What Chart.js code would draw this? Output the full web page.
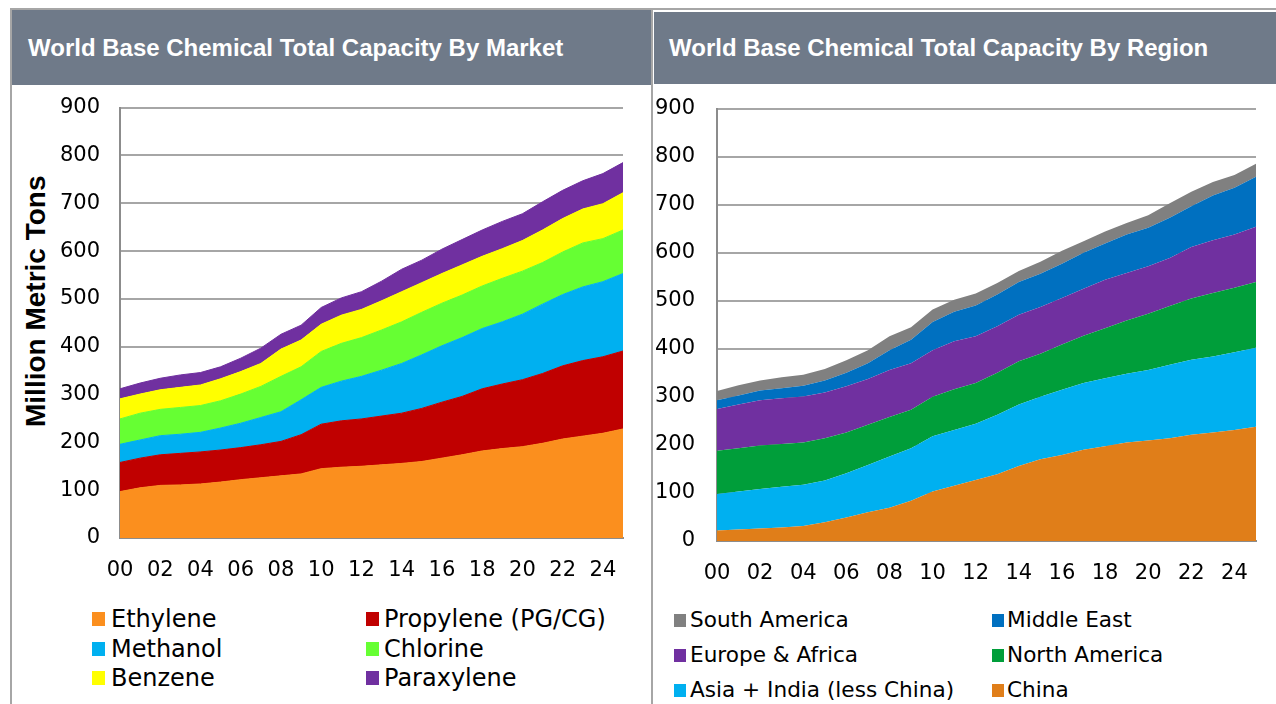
<!DOCTYPE html>
<html>
<head>
<meta charset="utf-8">
<script src="https://cdn.jsdelivr.net/npm/chart.js@4.4.0/dist/chart.umd.min.js"></script>
<style>
  body { margin:0; width:1276px; height:704px; background:#fff; position:relative; overflow:hidden; font-family:'DejaVu Sans', sans-serif; }
  .line { position:absolute; background:#a6a6a6; }
  .head { position:absolute; background:#6f7a89; color:#fff; font:bold 24px 'Liberation Sans', Arial, sans-serif; white-space:nowrap; line-height:76px; }
  .box { position:absolute; }
  .ytitle { position:absolute; font:bold 28px 'Liberation Sans', Arial, sans-serif; white-space:nowrap; transform-origin:0 0; transform:rotate(-90deg); }
  .leg i { position:absolute; display:block; }
  .leg span { position:absolute; white-space:nowrap; color:#000; }
</style>
</head>
<body>
<div class="line" style="left:10px;top:8px;width:2px;height:696px"></div>
<div class="line" style="left:10px;top:8px;width:1266px;height:2px"></div>
<div class="line" style="left:651px;top:8px;width:2px;height:696px"></div>
<div class="head" style="left:12px;top:10px;width:639px;height:75px"><span style="margin-left:16px">World Base Chemical Total Capacity By Market</span></div>
<div class="head" style="left:654px;top:12px;width:622px;height:72px;line-height:72px"><span style="margin-left:15px">World Base Chemical Total Capacity By Region</span></div>

<div class="ytitle" style="left:20px;top:427px">Million Metric Tons</div>

<div class="box" style="left:10px;top:75px"><canvas id="market" width="640" height="508"></canvas></div>
<div class="box" style="left:653px;top:74px"><canvas id="region" width="623" height="512"></canvas></div>

<div class="leg" id="legMarket"></div>
<div class="leg" id="legRegion"></div>

<script>
// years 2000..2025
const years = ['00','01','02','03','04','05','06','07','08','09','10','11','12',
               '13','14','15','16','17','18','19','20','21','22','23','24','25'];
const yTicks = [0, 100, 200, 300, 400, 500, 600, 700, 800, 900];

// by market (million metric tons), bottom to top
const marketNames = ['Ethylene', 'Propylene (PG/CG)', 'Methanol', 'Chlorine', 'Benzene', 'Paraxylene'];
const ethylene   = [97,105,110,111,113,117,122,126,130,134,145,148,150,153,156,160,167,174,182,187,191,198,207,213,219,228];
const propylene  = [61,62,64,66,67,67,67,69,72,82,93,97,99,102,105,111,117,122,130,135,140,146,153,158,160,163];
const methanol   = [38,38,40,40,41,46,51,57,62,73,77,83,89,96,104,112,118,123,126,130,137,145,149,154,157,162];
const chlorine   = [53,56,55,56,56,57,61,65,74,69,75,79,81,84,87,89,89,89,89,91,90,87,89,92,90,91];
const benzene    = [42,40,41,42,43,46,47,48,57,56,57,59,59,61,63,62,62,63,62,62,64,68,70,71,73,78];
const paraxylene = [21,23,24,26,26,25,28,32,31,31,35,36,37,41,47,47,51,53,55,57,56,59,59,59,63,63];

// by region, bottom to top
const regionNames = ['China', 'Asia + India (less China)', 'North America', 'Europe & Africa', 'Middle East', 'South America'];
const china        = [22,24,26,28,31,39,49,60,69,84,103,115,127,139,156,170,179,190,197,205,209,214,221,226,231,238];
const asia         = [76,79,82,85,86,87,92,98,107,109,115,116,117,124,128,130,136,139,142,143,147,153,156,158,162,164];
const northAmerica = [90,90,91,89,88,88,85,84,82,80,82,85,85,87,90,90,94,98,104,111,117,122,128,132,134,137];
const europeAfrica = [87,91,94,95,96,95,96,95,98,97,97,100,97,97,97,97,97,98,101,99,99,100,107,110,111,115];
const middleEast   = [18,19,20,21,22,25,28,33,41,49,59,61,64,66,68,69,71,75,75,80,80,84,85,93,97,104];
const southAmerica = [19,21,21,23,23,24,26,27,29,26,26,25,25,24,23,25,27,24,25,24,26,30,30,28,27,27];

const marketColors = ['#fb8f1e', '#c00000', '#00b0f0', '#66ff33', '#ffff00', '#7030a0'];
const regionColors = ['#e07e19', '#00b0f0', '#009e3a', '#7030a0', '#0070c0', '#808080'];

const tickFont = { family: 'DejaVu Sans', size: 21 };

function areaSets(names, series, colors, bw) {
  return series.map((data, i) => ({
    label: names[i],
    data: data,
    backgroundColor: colors[i],
    borderColor: colors[i],
    borderWidth: bw,
    pointRadius: 0,
    tension: 0,
    fill: i === 0 ? 'origin' : '-1'
  }));
}

// note: the y tick padding also pads the top of the plot, so the canvases sit a bit higher
function makeChart(id, datasets, yWidth, yPad, padRight) {
  return new Chart(document.getElementById(id), {
    type: 'line',
    data: { labels: years, datasets: datasets },
    options: {
      responsive: false,
      animation: false,
      devicePixelRatio: 1,
      layout: { padding: { left: 0, top: 0, right: padRight, bottom: 0 } },
      plugins: { legend: { display: false }, tooltip: { enabled: false } },
      scales: {
        x: {
          grid: { display: false },
          border: { display: true, color: '#8c8c8c', width: 2 },
          ticks: {
            autoSkip: false, maxRotation: 0, padding: 12, color: '#000', font: tickFont,
            callback: (v, i) => (i % 2 === 0 ? years[i] : '')
          },
          afterFit: s => { s.height = 45; }
        },
        y: {
          stacked: true,
          min: 0, max: 900,
          afterBuildTicks: s => { s.ticks = yTicks.map(v => ({ value: v })); },
          grid: { color: '#a6a6a6', lineWidth: 2, drawTicks: false },
          border: { display: true, color: '#8c8c8c', width: 2 },
          ticks: { padding: yPad, color: '#000', font: tickFont },
          afterFit: s => { s.width = yWidth; }
        }
      }
    }
  });
}

const marketSeries = [ethylene, propylene, methanol, chlorine, benzene, paraxylene];
const regionSeries = [china, asia, northAmerica, europeAfrica, middleEast, southAmerica];

const marketChart = makeChart('market', areaSets(marketNames, marketSeries, marketColors, 1), 110, 20, 27);
const regionChart = makeChart('region', areaSets(regionNames, regionSeries, regionColors, 0), 64, 22, 20);

// two-column legends built from the chart datasets
function buildLegend(elId, chart, order, geo) {
  const el = document.getElementById(elId);
  order.forEach((di, k) => {
    const ds = chart.data.datasets[di];
    const c = k % 2, r = Math.floor(k / 2);
    const cy = geo.rows[r];
    const sq = document.createElement('i');
    sq.style.left = geo.sqX[c] + 'px';
    sq.style.top = (cy - geo.sqH / 2) + 'px';
    sq.style.width = geo.sqW + 'px';
    sq.style.height = geo.sqH + 'px';
    sq.style.background = ds.backgroundColor;
    const tx = document.createElement('span');
    tx.textContent = ds.label;
    tx.style.left = geo.txX[c] + 'px';
    tx.style.top = (cy - geo.lh / 2) + 'px';
    tx.style.font = geo.size + 'px "DejaVu Sans", sans-serif';
    tx.style.lineHeight = geo.lh + 'px';
    el.appendChild(sq);
    el.appendChild(tx);
  });
}

buildLegend('legMarket', marketChart, [0, 1, 2, 3, 4, 5],
  { rows: [619, 648.5, 678], sqX: [92, 366], txX: [111, 384], sqW: 13, sqH: 14, size: 24, lh: 28 });
buildLegend('legRegion', regionChart, [5, 4, 3, 2, 1, 0],
  { rows: [620, 655, 690], sqX: [674, 992], txX: [690, 1007], sqW: 12, sqH: 13, size: 21.6, lh: 26 });
</script>
</body>
</html>
